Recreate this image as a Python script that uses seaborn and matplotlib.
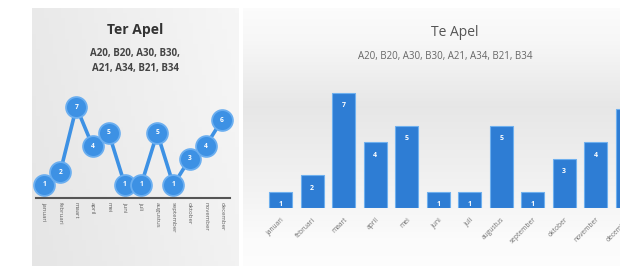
import numpy as np
import pandas as pd
import matplotlib
matplotlib.use("Agg")
import matplotlib.pyplot as plt
import seaborn as sns

months = ["januari", "februari", "maart", "april", "mei", "juni", "juli",
          "augustus", "september", "oktober", "november", "december"]
ter_apel = [1, 2, 7, 4, 5, 1, 1, 5, 1, 3, 4, 6]
te_apel = [1, 2, 7, 4, 5, 1, 1, 5, 1, 3, 4, 6]
left_title = "Ter Apel"
left_sub = "A20, B20, A30, B30,\nA21, A34, B21, B34"
right_title = "Te Apel"
right_sub = "A20, B20, A30, B30, A21, A34, B21, B34"

sns.set_theme(style="white")
plt.rcParams['font.family'] = ['Open Sans', 'DejaVu Sans']

W, H = 620, 268
fig = plt.figure(figsize=(W / 100, H / 100), dpi=100)
fig.patch.set_facecolor("white")

def fr(x0, y0, x1, y1):
    return [x0 / W, 1 - y1 / H, (x1 - x0) / W, (y1 - y0) / H]

# left panel background
bgl = fig.add_axes(fr(32, 8, 238, 266), zorder=0)
gx = np.linspace(0, 1, 50)
gy = np.linspace(0, 1, 50)
GX, GY = np.meshgrid(gx, gy)
val = 0.915 + 0.05 * GX - 0.015 * GY
bgl.imshow(np.dstack([val, val, val]), aspect="auto", extent=[0, 1, 0, 1], origin="upper")
bgl.set_axis_off()

# right panel background
bgr = fig.add_axes(fr(243, 8, 640, 266), zorder=0)
t = np.linspace(0, 1, 100)
v = np.interp(t, [0, 0.12, 0.38, 0.7, 0.9, 1.0], [0.985, 0.97, 0.905, 0.95, 0.985, 0.99])
img = np.repeat(v[:, None], 10, axis=1)
bgr.imshow(np.dstack([img, img, img]), aspect="auto", extent=[0, 1, 0, 1], origin="upper")
bgr.set_axis_off()

blue = "#3d91e4"

# left line chart
df_l = pd.DataFrame({"x": np.arange(len(months)), "v": ter_apel})
axl = fig.add_axes(fr(36, 198 - 7.6 * 13, 230, 198), zorder=2)
axl.patch.set_alpha(0)
sns.lineplot(data=df_l, x="x", y="v", ax=axl, color=blue, linewidth=2.6,
             marker="o", markersize=15, markeredgecolor="#6aaef0",
             markeredgewidth=1.3, sort=False)
for i, val_ in enumerate(ter_apel):
    axl.text(i, val_, str(val_), ha="center", va="center", color="white",
             fontsize=4.8, fontweight="bold", zorder=5)
axl.set_xlim(-0.5, 11.5)
axl.set_ylim(0, 7.6)
axl.set_xticks(range(len(months)))
axl.set_xticklabels(months, rotation=270, fontsize=4.3, color="#606060")
axl.tick_params(axis="x", length=0, pad=3)
axl.set_yticks([])
axl.set_xlabel("")
axl.set_ylabel("")
for s in ["top", "left", "right"]:
    axl.spines[s].set_visible(False)
axl.spines["bottom"].set_color("#555555")
axl.spines["bottom"].set_linewidth(1.5)
for ln in axl.lines:
    ln.set_clip_on(False)

fig.text(135 / W, 1 - 30 / H, left_title, ha="center", va="center",
         fontsize=10, fontweight="bold", color="#333333")
fig.text(135 / W, 1 - 61 / H, left_sub, ha="center", va="center",
         fontsize=7, fontweight="bold", color="#444444", linespacing=1.5)

# right bar chart
df_r = pd.DataFrame({"maand": months, "v": te_apel})
unit = 31.5
axr = fig.add_axes(fr(265, 208 - 7.5 * 16.5, 265 + 12 * unit, 208), zorder=2)
axr.patch.set_alpha(0)
sns.barplot(data=df_r, x="maand", y="v", ax=axr, color="#2e7dd4",
            width=0.74, edgecolor="#6fb0ee", linewidth=0.8, saturation=1)
axr.bar_label(axr.containers[0], labels=[str(x) for x in te_apel],
              padding=-12, color="white", fontsize=5, fontweight="bold")
axr.set_xlim(-0.5, 11.5)
axr.set_ylim(0, 7.5)
axr.set_yticks([])
axr.set_xlabel("")
axr.set_ylabel("")
axr.set_xticks(range(len(months)))
axr.set_xticklabels(months, rotation=45, ha="right", rotation_mode="anchor",
                    fontsize=4.8, color="#707070")
axr.tick_params(axis="x", length=0, pad=6)
for s in axr.spines.values():
    s.set_visible(False)

fig.text(455 / W, 1 - 32 / H, right_title, ha="center", va="center",
         fontsize=10, color="#555555")
fig.text(445 / W, 1 - 57 / H, right_sub, ha="center", va="center",
         fontsize=7, color="#666666")

fig.savefig("out.png", dpi=100)
